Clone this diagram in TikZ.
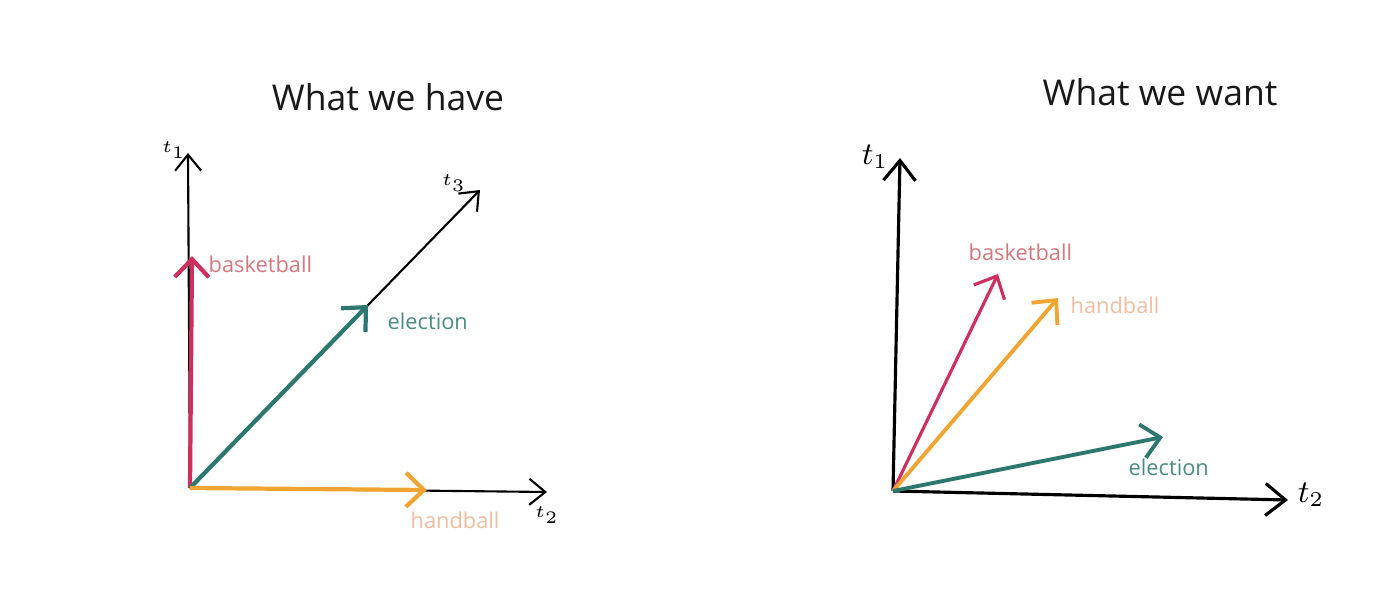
\documentclass[tikz,border=0pt]{standalone}
\usepackage{fontspec}
\setmainfont{Open Sans}
\usepackage{xcolor}
\usetikzlibrary{arrows.meta}
\definecolor{bask}{RGB}{205,48,95}
\definecolor{hand}{RGB}{240,165,50}
\definecolor{elec}{RGB}{45,120,110}
\definecolor{basktxt}{RGB}{212,120,125}
\definecolor{handtxt}{RGB}{240,188,160}
\definecolor{electxt}{RGB}{75,140,130}

\begin{document}
\begin{tikzpicture}[x=0.01cm, y=-0.01cm,
  axis/.style={line width=0.6pt, -{Straight Barb[length=1.6mm, width=2.6mm]}},
  bigaxis/.style={line width=0.9pt, -{Straight Barb[length=2mm, width=3.2mm]}},
  vec/.style={line width=1.2pt, -{Straight Barb[length=1.8mm, width=3.4mm]}},
  lbl/.style={font=\fontsize{6.2}{7}\selectfont, inner sep=0pt},
  title/.style={font=\fontsize{10.1}{12}\selectfont, text=black!90},
  tick/.style={font=\fontsize{4}{5}\selectfont, inner sep=0pt}]
  \useasboundingbox (0,0) rectangle (1400,609);

  % --- titles ------------------------------------------------------------------
  \node[title] (have) at (388,97) {What we have};
  \node[title] (want) at (1160,92) {What we want};

  % --- left panel: three orthogonal axes ---------------------------------------
  \coordinate (oL) at (190,488);
  \coordinate (t1L) at (188,153);
  \coordinate (t2L) at (547,492);
  \coordinate (t3L) at (480,190);
  \draw[axis] (oL) -- (t1L);
  \draw[axis] (oL) -- (t2L);
  \draw[axis] (oL) -- (t3L);
  \node[tick] (t1Llbl) at (174,150) {$t_1$};
  \node[tick] (t2Llbl) at (547,515) {$t_2$};
  \node[tick] (t3Llbl) at (454,183) {$t_3$};

  \coordinate (baskL) at (192,256);
  \coordinate (elecL) at (368,305);
  \coordinate (handL) at (427,490);
  \draw[vec, bask] (oL) -- (baskL);
  \draw[vec, elec] (oL) -- (elecL);
  \draw[vec, hand] (oL) -- (handL);
  \node[lbl, basktxt, anchor=west] (baskLlbl) at (208,264) {basketball};
  \node[lbl, electxt, anchor=west] (elecLlbl) at (387,321) {election};
  \node[lbl, handtxt, anchor=west] (handLlbl) at (410,520) {handball};

  % --- right panel: two axes ---------------------------------------------------
  \coordinate (oR) at (893,491);
  \coordinate (t1R) at (900,158);
  \coordinate (t2R) at (1288,500);
  \draw[bigaxis] (oR) -- (t1R);
  \draw[bigaxis] (oR) -- (t2R);
  \node[font=\fontsize{9}{10}\selectfont] (t1Rlbl) at (875,157) {$t_1$};
  \node[font=\fontsize{9}{10}\selectfont] (t2Rlbl) at (1311,495) {$t_2$};

  \coordinate (baskR) at (998,274);
  \coordinate (handR) at (1058,298);
  \coordinate (elecR) at (1163,437);
  \draw[vec, line width=0.9pt, bask] (oR) -- (baskR);
  \draw[vec, line width=1.1pt, hand] (oR) -- (handR);
  \draw[vec, line width=1.1pt, elec] (oR) -- (elecR);
  \node[lbl, basktxt, anchor=west] (baskRlbl) at (968,252) {basketball};
  \node[lbl, handtxt, anchor=west] (handRlbl) at (1070,305) {handball};
  \node[lbl, electxt, anchor=west] (elecRlbl) at (1128,467) {election};

\end{tikzpicture}
\end{document}
